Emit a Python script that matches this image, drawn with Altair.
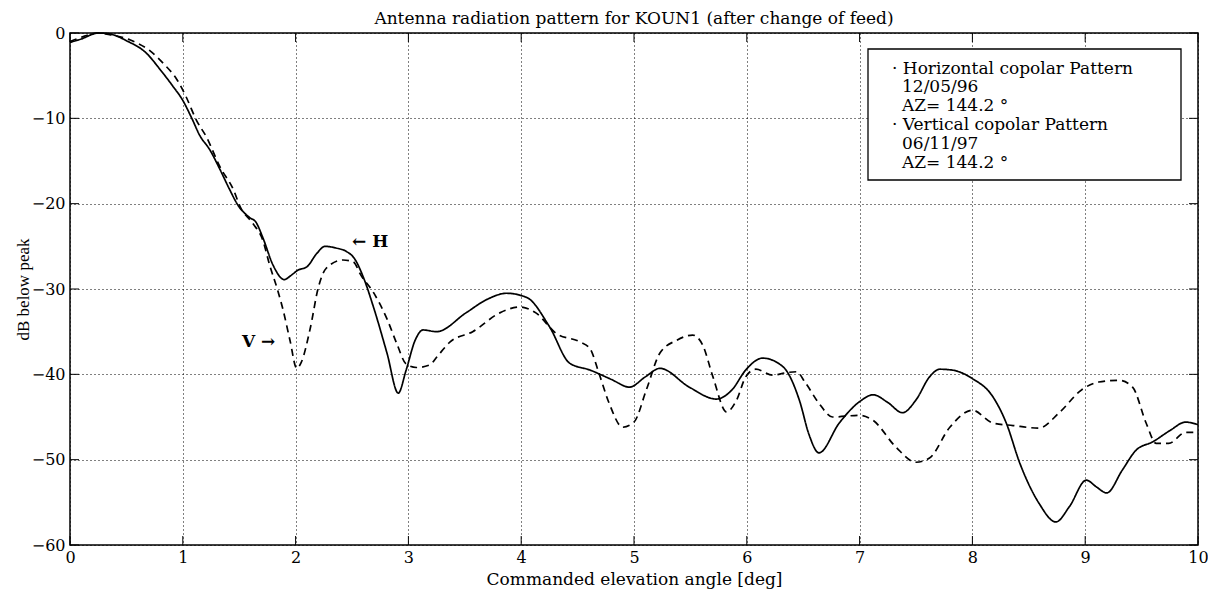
import altair as alt
import pandas as pd

# ---- data ----
h_angle = [0, 0.1, 0.25, 0.35, 0.5, 0.68, 0.8, 0.91, 1.0, 1.08, 1.15, 1.24, 1.33, 1.41, 1.49, 1.59, 1.65,
           1.71, 1.80, 1.90, 1.96, 2.02, 2.10, 2.19, 2.26, 2.36, 2.45, 2.52, 2.60, 2.69, 2.81, 2.91, 2.98,
           3.06, 3.13, 3.25, 3.51, 3.70, 3.87, 4.05, 4.25, 4.43, 4.61, 4.80, 4.96, 5.10, 5.23, 5.49, 5.73,
           5.87, 5.99, 6.14, 6.32, 6.47, 6.55, 6.64, 6.82, 7.0, 7.12, 7.25, 7.38, 7.50, 7.62, 7.71, 7.82,
           8.0, 8.18, 8.30, 8.42, 8.59, 8.74, 8.86, 9.01, 9.10, 9.19, 9.33, 9.45, 9.60, 9.75, 9.89, 10.0]
h_db = [-1.1, -0.7, 0, -0.1, -0.9, -2.4, -4.3, -6.2, -7.9, -10, -12, -13.7, -16, -18.2, -20.2, -21.6, -22.2,
        -24.0, -27.2, -28.9, -28.4, -27.8, -27.4, -25.8, -25.0, -25.2, -25.6, -26.4, -28.6, -32.1, -37.5, -42.2, -39.5,
        -36.0, -34.8, -35.0, -32.8, -31.2, -30.5, -31.0, -34.4, -38.7, -39.5, -40.6, -41.5, -40.3, -39.3, -41.5, -42.9,
        -41.8, -39.5, -38.1, -39.1, -43.2, -47.0, -49.2, -45.7, -43.2, -42.4, -43.3, -44.5, -43.0, -40.3, -39.4, -39.5,
        -40.5, -42.6, -45.7, -50.4, -55.1, -57.3, -55.5, -52.4, -53.2, -53.9, -51.2, -48.9, -47.9, -46.6, -45.6, -45.9]

v_angle = [0, 0.1, 0.25, 0.35, 0.53, 0.71, 0.83, 0.95, 1.03, 1.12, 1.21, 1.33, 1.45, 1.51, 1.62, 1.71, 1.77,
           1.84, 1.89, 1.95, 2.01, 2.05, 2.13, 2.20, 2.27, 2.42, 2.51, 2.58, 2.69, 2.81, 2.90, 2.98, 3.07,
           3.19, 3.25, 3.37, 3.57, 3.81, 3.99, 4.13, 4.31, 4.52, 4.61, 4.69, 4.78, 4.90, 5.0, 5.11, 5.23,
           5.38, 5.52, 5.61, 5.70, 5.82, 5.91, 5.99, 6.08, 6.23, 6.35, 6.44, 6.52, 6.64, 6.76, 7.0, 7.12,
           7.32, 7.50, 7.62, 7.80, 8.0, 8.18, 8.36, 8.59, 8.77, 8.97, 9.12, 9.30, 9.42, 9.54, 9.63, 9.74,
           9.89, 10.0]
v_db = [-1.0, -0.5, 0, -0.2, -0.8, -2.1, -3.6, -5.5, -7.5, -10.2, -12.2, -15.7, -18.4, -20.4, -22.3, -24.3, -27.2,
        -30.1, -32.5, -36.0, -39.3, -38.6, -34.6, -29.9, -27.6, -26.6, -26.8, -28.4, -30.4, -33.5, -36.5, -38.8, -39.2,
        -38.9, -38.0, -36.2, -35.0, -32.8, -32.1, -32.8, -35.2, -36.2, -37.0, -39.9, -43.4, -46.2, -45.6, -41.8, -37.5,
        -36.0, -35.4, -36.6, -40.3, -44.4, -43.0, -40.3, -39.4, -40.1, -39.8, -39.7, -41.0, -43.4, -45.0, -44.8, -45.4,
        -48.5, -50.3, -49.8, -46.2, -44.2, -45.7, -46.0, -46.3, -44.5, -41.8, -40.9, -40.7, -41.5, -45.7, -48.1, -48.1,
        -46.8, -46.8]

x_ticks = [0, 1, 2, 3, 4, 5, 6, 7, 8, 9, 10]
y_ticks = [-60, -50, -40, -30, -20, -10, 0]

legend_lines = ["· Horizontal copolar Pattern", "12/05/96", "AZ= 144.2 °",
                "· Vertical copolar Pattern", "06/11/97", "AZ= 144.2 °"]
annotations = [{"label": "← H", "angle": 2.50, "db": -24.5, "align": "left"},
               {"label": "V →", "angle": 1.82, "db": -36.2, "align": "right"}]

# ---- layout ----
W, H = 1128, 512
FONT = "DejaVu Serif"

df = pd.concat([
    pd.DataFrame({"angle": h_angle, "db": h_db, "series": "H"}),
    pd.DataFrame({"angle": v_angle, "db": v_db, "series": "V"}),
])

xscale = alt.Scale(domain=[0, 10], nice=False, zero=False)
yscale = alt.Scale(domain=[-60, 0], nice=False, zero=False)

xaxis = alt.Axis(values=x_ticks, format="d", title="Commanded elevation angle [deg]", grid=True, ticks=False,
                 domain=False, labelFlush=False, labelOverlap=False, labelPadding=4,
                 titleY=39, titleBaseline="alphabetic", titleFontSize=17)
yaxis = alt.Axis(values=y_ticks, format="d", title="dB below peak", grid=True, ticks=False, domain=False,
                 labelFlush=False, labelOverlap=False, labelPadding=5,
                 titleX=-47, titleY=H / 2, titleAngle=-90, titleAlign="center", titleBaseline="middle",
                 titleFont="Liberation Serif", titleFontSize=17)

lines = alt.Chart(df).mark_line(color="black", strokeWidth=1.7, interpolate="monotone").encode(
    x=alt.X("angle:Q", scale=xscale, axis=xaxis),
    y=alt.Y("db:Q", scale=yscale, axis=yaxis),
    strokeDash=alt.StrokeDash("series:N", scale=alt.Scale(domain=["H", "V"], range=[[1, 0], [7, 5]]), legend=None),
    detail="series:N",
)

xt = pd.DataFrame({"t": x_ticks})
yt = pd.DataFrame({"t": y_ticks})
TL = 9
tick_bottom = alt.Chart(xt).mark_rule(color="black", strokeWidth=1).encode(
    x=alt.X("t:Q", scale=xscale), y=alt.value(H), y2=alt.value(H - TL))
tick_top = alt.Chart(xt).mark_rule(color="black", strokeWidth=1).encode(
    x=alt.X("t:Q", scale=xscale), y=alt.value(0), y2=alt.value(TL))
tick_left = alt.Chart(yt).mark_rule(color="black", strokeWidth=1).encode(
    y=alt.Y("t:Q", scale=yscale), x=alt.value(0), x2=alt.value(TL))
tick_right = alt.Chart(yt).mark_rule(color="black", strokeWidth=1).encode(
    y=alt.Y("t:Q", scale=yscale), x=alt.value(W), x2=alt.value(W - TL))

ann_layers = []
for a in annotations:
    ann_layers.append(
        alt.Chart(pd.DataFrame([a])).mark_text(font=FONT, fontSize=17, fontWeight="bold", color="black",
                                               align=a["align"], baseline="middle").encode(
            x=alt.X("angle:Q", scale=xscale), y=alt.Y("db:Q", scale=yscale), text="label:N"))

box = alt.Chart(pd.DataFrame({"k": [0]})).mark_rect(fill="white", stroke="black", strokeWidth=1.3).encode(
    x=alt.value(798), x2=alt.value(1111), y=alt.value(16), y2=alt.value(147))

leg_rows = []
for i, line in enumerate(legend_lines):
    leg_rows.append({"txt": line, "px": 822 if line.startswith("·") else 832, "py": 35.5 + i * 18.9})
leg_text = alt.Chart(pd.DataFrame(leg_rows)).mark_text(font=FONT, fontSize=17, color="black", align="left",
                                                       baseline="middle").encode(
    x=alt.X("px:Q", scale=None), y=alt.Y("py:Q", scale=None), text="txt:N")

chart = alt.layer(lines, tick_bottom, tick_top, tick_left, tick_right, *ann_layers, box, leg_text).properties(
    width=W, height=H, background="white",
    title=alt.TitleParams("Antenna radiation pattern for KOUN1 (after change of feed)", font=FONT,
                          fontSize=17, fontWeight="normal", color="black", anchor="middle", offset=0, dy=3),
    autosize=alt.AutoSizeParams(type="none"),
    padding={"left": 62, "top": 25, "right": 10, "bottom": 46},
).configure_view(stroke="black", strokeWidth=1.5).configure_axis(
    labelFont=FONT, labelFontSize=16, labelColor="black", titleFont=FONT, titleFontSize=15,
    titleFontWeight="normal", titleColor="black", gridColor="black", gridDash=[1, 3], gridWidth=1,
    gridOpacity=1,
)

chart.save("out.html", embed_options={"renderer": "svg", "actions": False})
